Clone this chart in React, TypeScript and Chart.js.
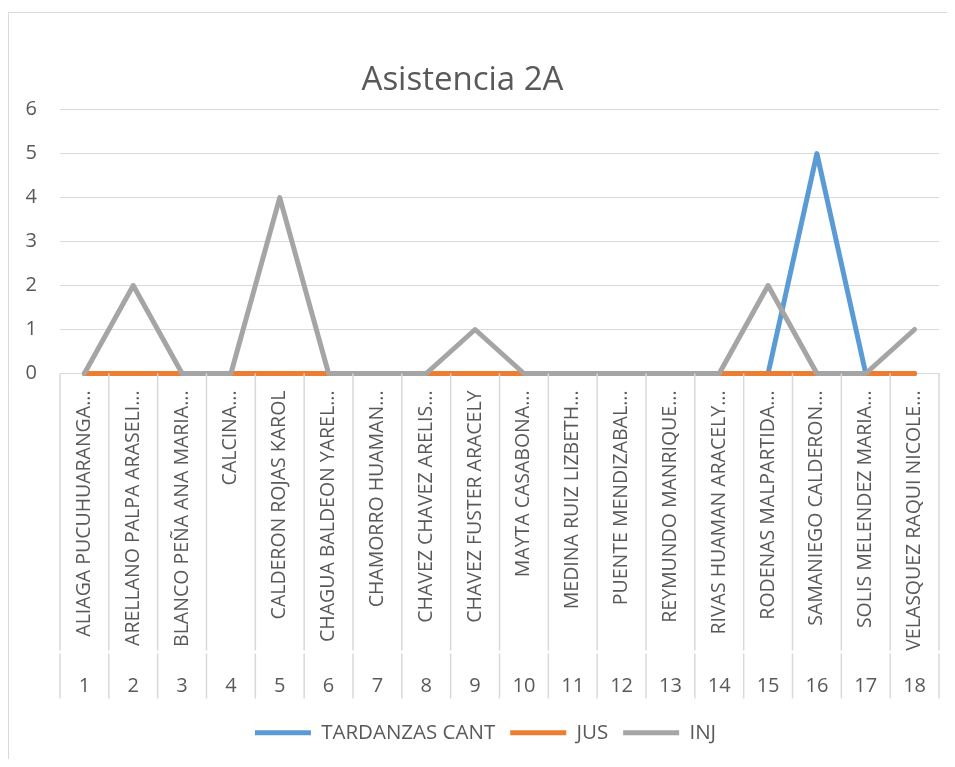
import React, { useEffect, useRef } from "react";
import { Chart, registerables } from "chart.js";

Chart.register(...registerables);

const studentNames = [
  "ALIAGA PUCUHUARANGA...",
  "ARELLANO PALPA ARASELI...",
  "BLANCO PEÑA ANA MARIA...",
  "CALCINA...",
  "CALDERON ROJAS KAROL",
  "CHAGUA BALDEON YAREL...",
  "CHAMORRO HUAMAN...",
  "CHAVEZ CHAVEZ ARELIS...",
  "CHAVEZ FUSTER ARACELY",
  "MAYTA CASABONA...",
  "MEDINA RUIZ LIZBETH...",
  "PUENTE MENDIZABAL...",
  "REYMUNDO MANRIQUE...",
  "RIVAS HUAMAN ARACELY...",
  "RODENAS MALPARTIDA...",
  "SAMANIEGO CALDERON...",
  "SOLIS MELENDEZ MARIA...",
  "VELASQUEZ RAQUI NICOLE...",
];

const rowNumbers = ["1", "2", "3", "4", "5", "6", "7", "8", "9", "10", "11", "12", "13", "14", "15", "16", "17", "18"];

const tardanzasCant = [0, 0, 0, 0, 0, 0, 0, 0, 0, 0, 0, 0, 0, 0, 0, 5, 0, 0];
const jus = [0, 0, 0, 0, 0, 0, 0, 0, 0, 0, 0, 0, 0, 0, 0, 0, 0, 0];
const inj = [0, 2, 0, 0, 4, 0, 0, 0, 1, 0, 0, 0, 0, 0, 2, 0, 0, 1];

const yMin = 0;
const yMax = 6;
const yStep = 1;

const FONT = "'Open Sans', sans-serif";
const TEXT = "#595959";
const GRID = "#D9D9D9";

const borderPlugin = {
  id: "outerBorder",
  beforeDraw(chart: any) {
    const ctx = chart.ctx;
    ctx.save();
    ctx.strokeStyle = GRID;
    ctx.lineWidth = 1;
    ctx.beginPath();
    ctx.moveTo(0.5, chart.height);
    ctx.lineTo(0.5, 4.5);
    ctx.lineTo(chart.width, 4.5);
    ctx.stroke();
    ctx.restore();
  },
};

const shiftPlugin = {
  id: "boxShift",
  afterLayout(chart: any) {
    const t = chart.titleBlock;
    if (t) {
      t.right -= 22;
    }
    const l = chart.legend;
    if (l) {
      l.left += 12;
      l.right += 12;
    }
  },
};

const separatorPlugin = {
  id: "categorySeparators",
  afterDraw(chart: any) {
    const x = chart.scales.x;
    const x2 = chart.scales.x2;
    const ctx = chart.ctx;
    const n = x.getLabels().length;
    ctx.save();
    ctx.strokeStyle = GRID;
    ctx.lineWidth = 1.5;
    for (let i = 0; i <= n; i++) {
      const px = x.getPixelForValue(i - 0.5);
      ctx.beginPath();
      ctx.moveTo(px, x.top);
      ctx.lineTo(px, x.bottom - 2);
      ctx.moveTo(px, x2.top + 1);
      ctx.lineTo(px, x2.top + 46);
      ctx.stroke();
    }
    ctx.restore();
  },
};

export default function App() {
  const ref = useRef<HTMLCanvasElement | null>(null);

  useEffect(() => {
    if (!ref.current) return;
    const lineDs = (label: string, data: number[], color: string, order: number) => ({
      label,
      data,
      borderColor: color,
      backgroundColor: color,
      borderWidth: 5,
      borderCapStyle: "round" as const,
      borderJoinStyle: "round" as const,
      pointRadius: 0,
      pointHoverRadius: 0,
      tension: 0,
      fill: false,
      clip: false as const,
      order,
      xAxisID: "x",
    });
    const chart = new Chart(ref.current, {
      type: "line",
      data: {
        labels: studentNames,
        datasets: [
          lineDs("TARDANZAS CANT", tardanzasCant, "#5B9BD5", 3),
          lineDs("JUS", jus, "#ED7D31", 2),
          lineDs("INJ", inj, "#A5A5A5", 1),
        ],
      },
      options: {
        responsive: false,
        animation: false,
        layout: { padding: { top: 0, right: 8, bottom: 6, left: 0 } },
        plugins: {
          title: {
            display: true,
            text: "Asistencia 2A",
            color: TEXT,
            font: { family: FONT, size: 33, weight: "normal" },
            padding: { top: 53, bottom: 9 },
          },
          legend: {
            display: true,
            position: "bottom",
            labels: {
              usePointStyle: true,
              pointStyle: "line",
              pointStyleWidth: 56,
              color: TEXT,
              font: { family: FONT, size: 20.5 },
              padding: 15,
              sort: (a: any, b: any) => a.datasetIndex - b.datasetIndex,
            },
          },
          tooltip: { enabled: false },
        },
        scales: {
          y: {
            min: yMin,
            max: yMax,
            ticks: {
              stepSize: yStep,
              color: TEXT,
              font: { family: FONT, size: 20 },
              padding: 23,
            },
            grid: { color: GRID, lineWidth: 1, drawTicks: false },
            border: { display: false },
            afterFit: (s: any) => {
              s.width = 52;
            },
          },
          x: {
            type: "category",
            position: "bottom",
            offset: true,
            weight: 0,
            ticks: {
              autoSkip: false,
              minRotation: 90,
              maxRotation: 90,
              color: TEXT,
              font: { family: FONT, size: 19.5 },
              padding: 17,
            },
            grid: { display: false, drawTicks: false },
            border: { display: true, color: GRID, width: 1 },
            afterFit: (s: any) => {
              s.height = 279;
              s.paddingLeft = 0;
              s.paddingRight = 0;
            },
          },
          x2: {
            type: "category",
            position: "bottom",
            labels: rowNumbers,
            offset: true,
            weight: 1,
            ticks: {
              autoSkip: false,
              maxRotation: 0,
              color: TEXT,
              font: { family: FONT, size: 20 },
              padding: 22,
            },
            grid: { display: false, drawTicks: false },
            border: { display: false },
            afterFit: (s: any) => {
              s.height = 55;
              s.paddingLeft = 0;
              s.paddingRight = 0;
            },
          },
        },
      },
      plugins: [borderPlugin, shiftPlugin, separatorPlugin],
    });
    return () => chart.destroy();
  }, []);

  return (
    <div style={{ width: 939, height: 751 }}>
      <canvas ref={ref} width={939} height={751} style={{ display: "block" }} />
    </div>
  );
}
